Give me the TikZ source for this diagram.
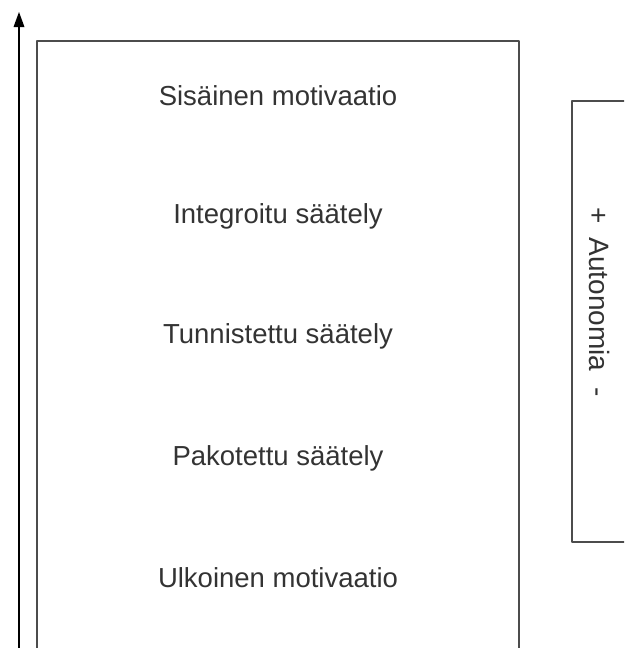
\documentclass[tikz,border=0pt]{standalone}
\usepackage{fontspec}
\setmainfont{Liberation Sans}
\begin{document}
\begin{tikzpicture}[x=1pt, y=-1pt, line join = round]
	\useasboundingbox (0,0) rectangle (624,648);
	\clip (0,0) rectangle (624,648);
	\coordinate (base) at (19,660);
	\coordinate (neck) at (19,24);
	\coordinate (tip) at (19,12);
	\draw[line width=1.6pt] (base) -- (neck);
	\fill (tip) -- ++(-5.5,15) -- ++(11,0) -- cycle;
	\draw[line width=1.5pt, black!70] (37,41) rectangle (519,670);
	\draw[line width=1.5pt, black!70] (572,101) rectangle (650,542);
	\foreach \y/\t/\n in {96/Sisäinen motivaatio/1, 216/Integroitu säätely/2, 336/Tunnistettu säätely/3, 458/Pakotettu säätely/4, 578/Ulkoinen motivaatio/5} {\node[font = \fontsize{27.5}{33}\selectfont, text = black!80] (lvl\n) at (278,\y) {\t};}
	\node[rotate = -90, font = \fontsize{28}{33}\selectfont, text = black!80] (auto) at (600,302) {+\hspace{14pt}Autonomia\hspace{16pt}-};
\end{tikzpicture}
\end{document}
